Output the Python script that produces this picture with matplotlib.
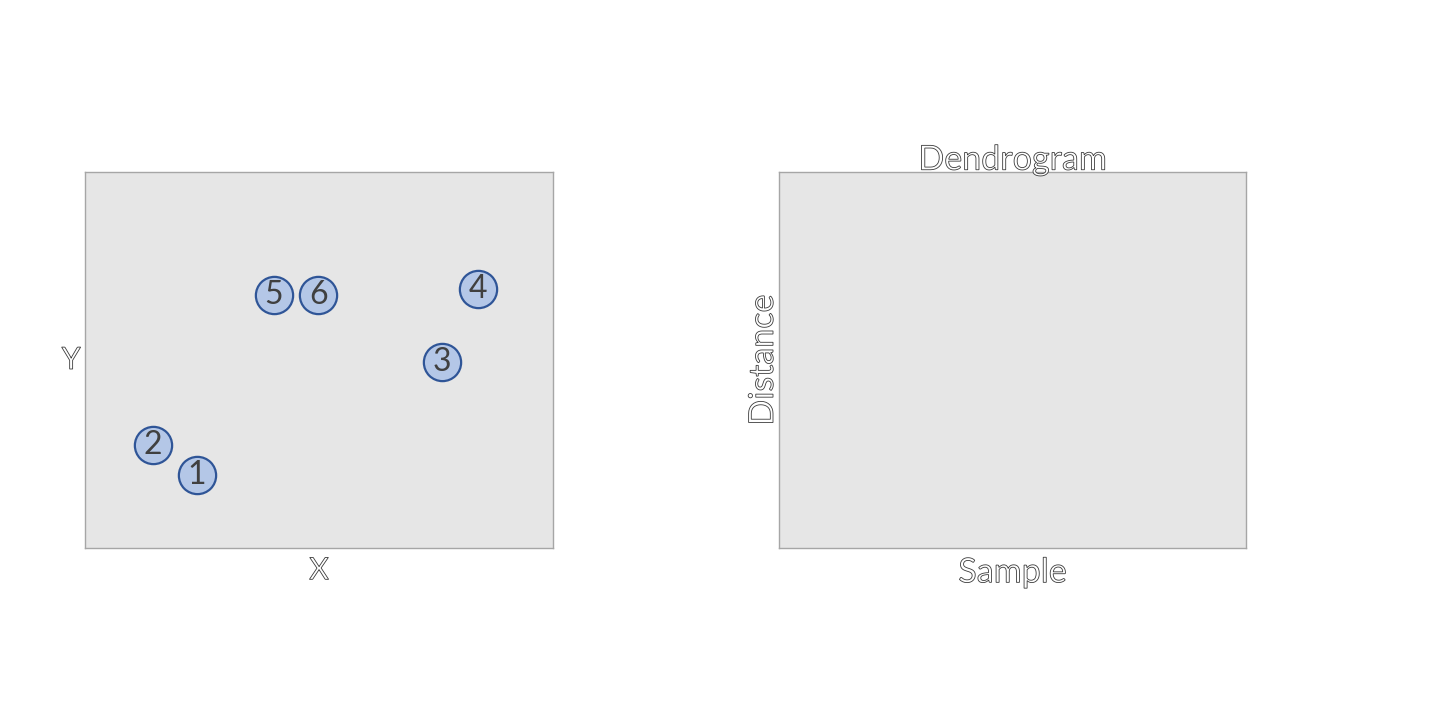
import matplotlib.pyplot as plt
import matplotlib.patheffects as pe

# sample points
labels = ["1", "2", "3", "4", "5", "6"]
xs = [2.39, 1.45, 7.63, 8.40, 4.04, 4.98]
ys = [1.55, 2.19, 3.96, 5.51, 5.38, 5.38]

FONT = ["Lato", "DejaVu Sans"]
outline = [pe.PathPatchEffect(edgecolor="#3a3a3a", facecolor="white", linewidth=0.6)]

fig = plt.figure(figsize=(14.4, 7.2), dpi=100)

ax1 = fig.add_axes([85 / 1440, 172 / 720, 468 / 1440, 376 / 720])
ax2 = fig.add_axes([779 / 1440, 172 / 720, 467 / 1440, 376 / 720])

for ax in (ax1, ax2):
    ax.set_facecolor("#E6E6E6")
    ax.set_xticks([])
    ax.set_yticks([])
    for s in ax.spines.values():
        s.set_color("#A6A6A6")
        s.set_linewidth(1)

ax1.set_xlim(0, 10)
ax1.set_ylim(0, 8)
ax1.scatter(xs, ys, s=720, c="#B4C7E7", edgecolors="#2F5597", linewidths=1.6, zorder=3)
for lab, x, y in zip(labels, xs, ys):
    ax1.text(x, y, lab, ha="center", va="center", fontsize=23, color="#404040",
             family=FONT, zorder=4)

ax1.set_xlabel("X", fontsize=22, family=FONT, path_effects=outline, labelpad=6)
ax1.set_ylabel("Y", fontsize=22, family=FONT, path_effects=outline, rotation=0,
               labelpad=10, va="center")

# title placed by hand so it sits right on the top spine
ax2.text(0.5, 1.006, "Dendrogram", transform=ax2.transAxes, ha="center", va="baseline",
         fontsize=24.5, family=FONT, path_effects=outline, zorder=5, clip_on=False)
ax2.set_xlabel("Sample", fontsize=24.5, family=FONT, path_effects=outline, labelpad=6)
ax2.set_ylabel("Distance", fontsize=24.5, family=FONT, path_effects=outline, labelpad=0)

fig.savefig("out.png", dpi=100)
